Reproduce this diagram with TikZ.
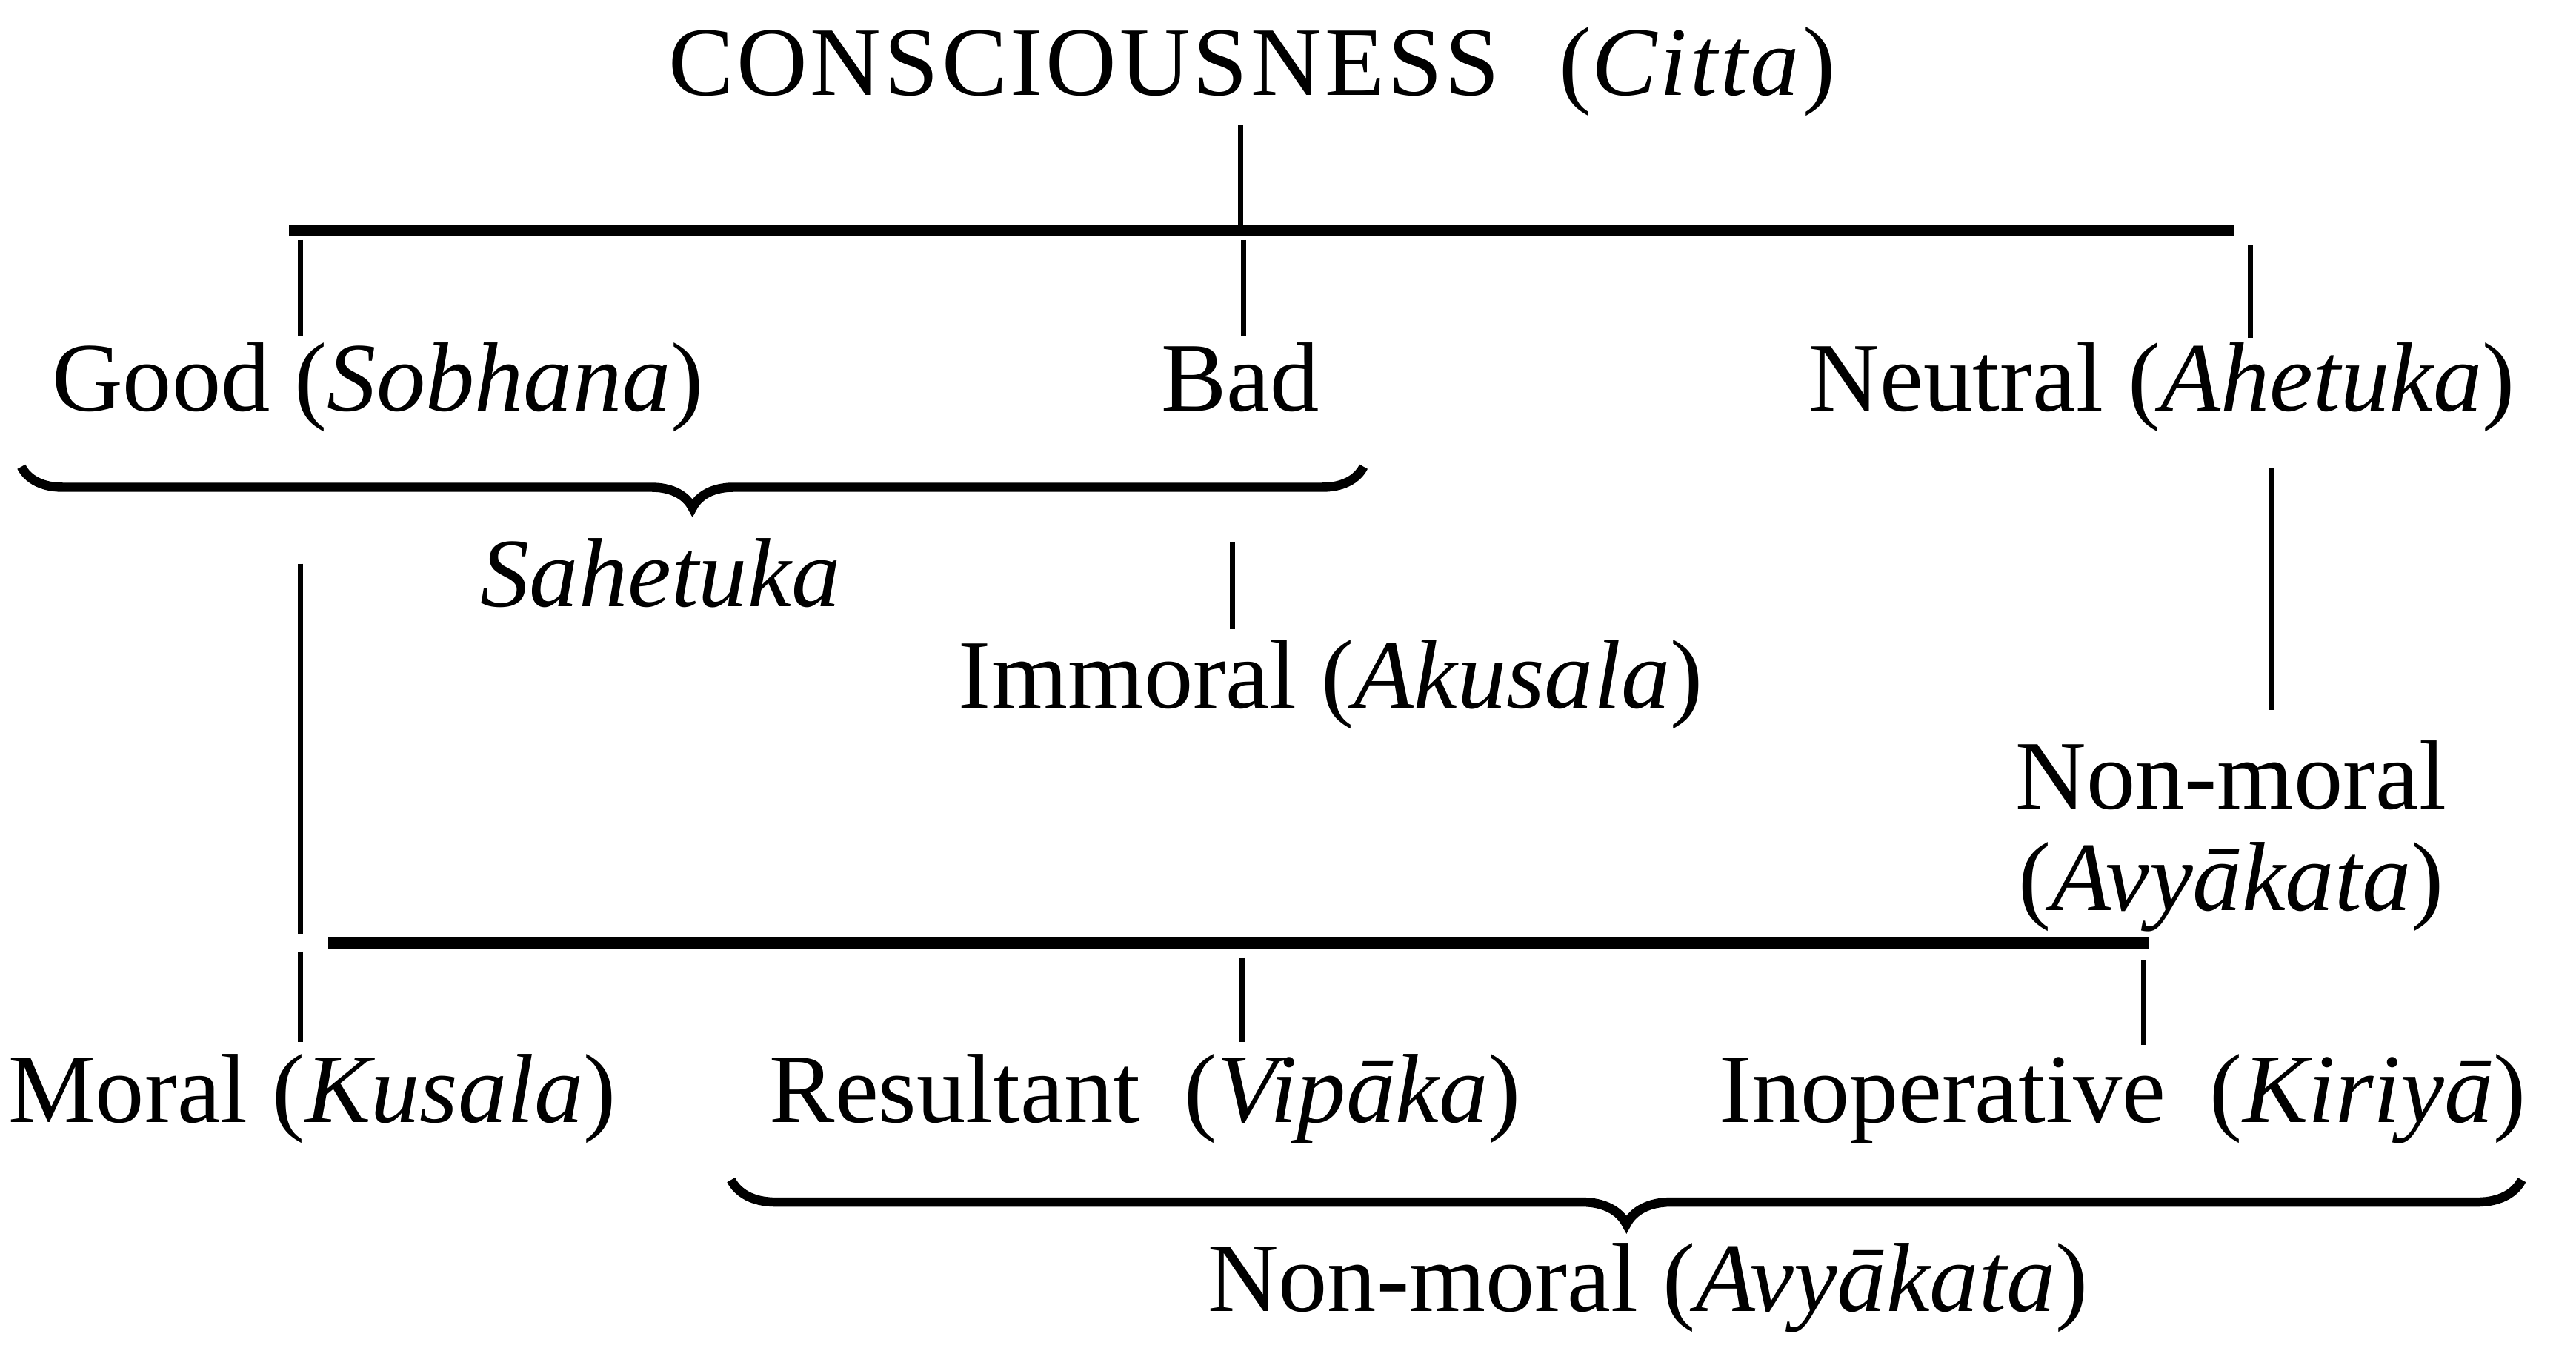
\documentclass[tikz,border=0pt]{standalone}
\usepackage{fontspec}
\setmainfont{Liberation Serif}
\usetikzlibrary{decorations.pathreplacing}

\begin{document}
\begin{tikzpicture}[x=.1mm,y=-.1mm,
  lbl/.style={anchor=base,inner sep=0pt,font=\fontsize{17}{19}\selectfont},
  link/.style={line width=.9pt},
  bar/.style={line width=2pt},
  brc/.style={line width=1.6pt,decorate,decoration={brace,mirror,amplitude=#1}}]
  \useasboundingbox (0,0) rectangle (1568,822);
  \node[lbl] (title) at (762,58) {\addfontfeature{LetterSpace=3}CONSCIOUSNESS\hspace{.6em}(\textit{Citta})};
  \node[lbl] (good) at (230,250) {Good (\textit{Sobhana})};
  \node[lbl] (bad) at (755,250) {Bad};
  \node[lbl] (neutral) at (1316,250) {Neutral (\textit{Ahetuka})};
  \node[lbl] (sahetuka) at (402,369) {\textit{Sahetuka}};
  \node[lbl] (immoral) at (810,431) {Immoral (\textit{Akusala})};
  \node[lbl] (nonmoral) at (1358,492) {Non-moral};
  \node[lbl] (avyakata) at (1358,554) {(\textit{Avyākata})};
  \node[lbl] (moral) at (190,683) {Moral (\textit{Kusala})};
  \node[lbl] (resultant) at (697,683) {Resultant\hspace{.45em}(\textit{Vipāka})};
  \node[lbl] (inoperative) at (1292,683) {Inoperative\hspace{.45em}(\textit{Kiriyā})};
  \node[lbl] (nonmoraltwo) at (1003,798) {Non-moral (\textit{Avyākata})};

  \coordinate (ubl) at (176,140); \coordinate (ubr) at (1360,140);
  \coordinate (jc) at (755,140);
  \coordinate (jg) at (183,140); \coordinate (jb) at (757,140); \coordinate (jn) at (1370,140);
  \draw[bar] (ubl) -- (ubr);
  \draw[link,shorten <=.5mm,shorten >=.2mm] (title.south -| jc) -- (jc);
  \draw[link,shorten <=.6mm,shorten >=.3mm] (jg) -- (jg |- good.north);
  \draw[link,shorten <=.6mm,shorten >=.3mm] (jb) -- (jb |- bad.north);
  \draw[link,shorten <=.9mm,shorten >=.2mm] (jn) -- (jn |- neutral.north);

  \coordinate (sbl) at (13,284); \coordinate (sbr) at (830,284);
  \draw[brc=2.5mm] (sbl) -- (sbr);
  \coordinate (ki) at (750,330);
  \draw[link,shorten >=.6mm] (ki) -- (ki |- immoral.north);
  \coordinate (kn) at (1383,285);
  \draw[link,shorten >=1.8mm] (kn) -- (kn |- nonmoral.north);

  \coordinate (lbl) at (200,574); \coordinate (lbr) at (1308,574);
  \coordinate (km) at (183,343); \coordinate (kmm) at (183,568); \coordinate (kml) at (183,579);
  \draw[bar] (lbl) -- (lbr);
  \draw[link] (km) -- (kmm);
  \draw[link,shorten >=.7mm] (kml) -- (kml |- moral.north);
  \coordinate (kr) at (756,583); \coordinate (ko) at (1305,574);
  \draw[link,shorten >=.7mm] (kr) -- (kr |- resultant.north);
  \draw[link,shorten <=1mm,shorten >=.5mm] (ko) -- (ko |- inoperative.north);

  \coordinate (nbl) at (445,718); \coordinate (nbr) at (1535,718);
  \draw[brc=2.7mm] (nbl) -- (nbr);
\end{tikzpicture}
\end{document}
